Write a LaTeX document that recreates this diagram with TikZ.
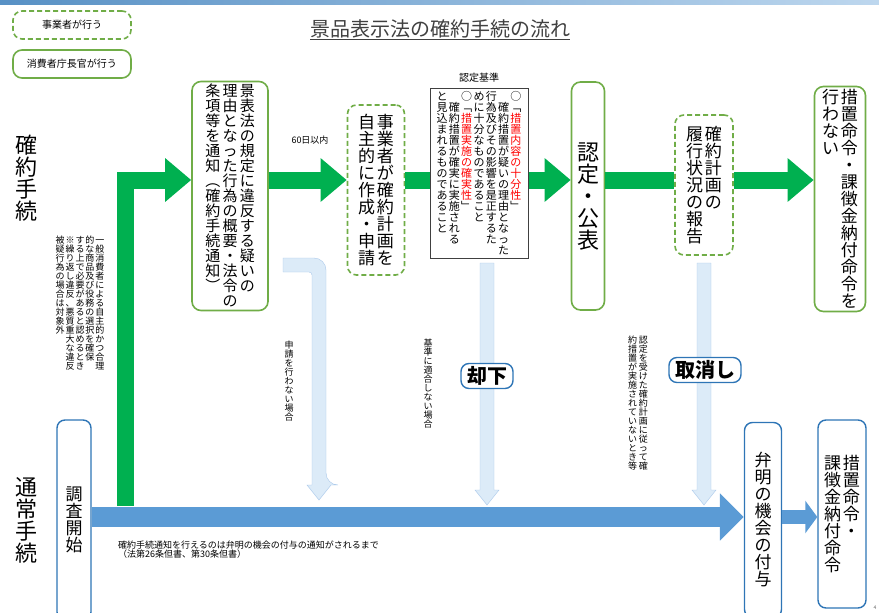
\documentclass[tikz,border=0pt]{standalone}
\usepackage{fontspec}
\setmainfont{Noto Sans CJK JP}
\usetikzlibrary{arrows.meta}
\definecolor{gA}{HTML}{00B050}
\definecolor{gB}{HTML}{70AD47}
\definecolor{bA}{HTML}{5B9BD5}
\definecolor{bB}{HTML}{2E75B6}
\definecolor{lb}{HTML}{DCEBF8}
\definecolor{lbd}{HTML}{A9C8EA}
\ExplSyntaxOn
\bool_new:N \l_vtred_bool
\dim_new:N \l_vtw_dim
\cs_new:Npn \vtcol #1 {\vtop{\offinterlineskip
  \tl_map_inline:nn {#1}{
    \tl_if_eq:nnTF {##1}{\R}{\bool_set_true:N \l_vtred_bool}{
    \tl_if_eq:nnTF {##1}{\K}{\bool_set_false:N \l_vtred_bool}{
      \hbox to \l_vtw_dim{\hss\vrule height .88\l_vtw_dim depth .12\l_vtw_dim width 0pt
        \bool_if:NT \l_vtred_bool {\color{red}}##1\hss}}}}}}
\NewDocumentCommand\vt{O{0.2em}m}{\hbox{\dim_set:Nn \l_vtw_dim{1em}
  \seq_set_split:Nnn \l_tmpa_seq {|} {#2}
  \seq_reverse:N \l_tmpa_seq
  \seq_map_inline:Nn \l_tmpa_seq {\vtcol{##1}\kern#1}\unkern}}
\ExplSyntaxOff
\newcommand\fs[1]{\fontsize{#1}{#1}\selectfont}
\newcommand\vdown[3]{\fill[lb,draw=lbd] (#1-7,#2)--(#1+7,#2)--(#1+7,#3-15)--(#1+12,#3-15)--(#1,#3)--(#1-12,#3-15)--(#1-7,#3-15)--cycle;}
\begin{document}
\begin{tikzpicture}[x=1pt,y=-1pt,
  gbox/.style={draw=gB,line width=1.6pt,rounded corners=9pt,fill=white,inner sep=2pt},
  gdash/.style={gbox,dash pattern=on 5pt off 3pt},
  bbox/.style={draw=bB,line width=1.4pt,rounded corners=8pt,fill=white,inner sep=2pt},
  garr/.style={gA,line width=17pt,-{Triangle[length=26pt,width=42pt]}},
  barr/.style={bA,line width=20pt,-{Triangle[length=24pt,width=46pt]}},
  lab/.style={inner sep=0pt}]
\useasboundingbox (0,0) rectangle (879,613);
\shade[left color=bB!80,right color=bA!40] (0,0) rectangle (879,4);
% legend
\node[gdash,minimum width=118pt,minimum height=28pt,font=\fs{10}] (lg1) at (72,25) {事業者が行う};
\node[gbox,minimum width=118pt,minimum height=28pt,font=\fs{10}] (lg2) at (72,64) {消費者庁長官が行う};
\node[lab,font=\fs{20},text=black!75] (title) at (440,30) {\underline{景品表示法の確約手続の流れ}};
\node[lab,font=\fs{22}] (l1) at (27,178) {\vt{確約手続}};
\node[lab,font=\fs{22}] (l2) at (27,520) {\vt{通常手続}};
% hatched arrows
\fill[lb,draw=lbd] (283,258) [rounded corners=12pt]--(326,258)--(326,485) [sharp corners]--(331,485)--(319,500)--(307,485)--(312,485) [rounded corners=3pt]--(312,272) [sharp corners]--(283,272)--cycle;
\vdown{487}{263}{505}
\vdown{704}{263}{505}
% green L arrow
\coordinate (gl0) at (125,506);
\coordinate (gl1) at (125,180);
% nodes
\node[gbox,minimum width=76pt,minimum height=228pt,font=\fs{15}] (notice) at (230,196) {\vt[0.15em]{景表法の規定に違反する疑いの|理由となった行為の概要・法令の|条項等を通知︵確約手続通知︶}};
\node[gdash,minimum width=57pt,minimum height=170pt,font=\fs{17}] (plan) at (376,190) {\vt[0.1em]{事業者が確約計画を|自主的に作成・申請}};
\node[gbox,minimum width=33pt,minimum height=228pt,font=\fs{22}] (nintei) at (588,196) {\vt{認定・公表}};
\node[gdash,minimum width=58pt,minimum height=140pt,font=\fs{17}] (report) at (704,185) {\vt[0.1em]{確約計画の|履行状況の報告}};
\node[gbox,minimum width=51pt,minimum height=222pt,font=\fs{17}] (nomeas) at (840,199) {\vt[0.1em]{措置命令・課徴金納付命令を|行わない}};
\draw[garr] (gl0) -- (gl1) -- (notice.west |- gl1);
\draw[garr] (notice.east |- gl1) -- (plan.west |- gl1);
\draw[garr] (plan.east |- gl1) -- (nintei.west |- gl1);
\draw[garr,-] (nintei.east |- gl1) -- (report.west |- gl1);
\draw[garr] (report.east |- gl1) -- (nomeas.west |- gl1);
\node[lab,font=\fs{9}] (d60) at (310,140) {60日以内};
\node[draw=black!75,line width=1pt,fill=white,minimum width=98pt,minimum height=170pt,inner sep=0pt,font=\fs{11}] (crit) at (479,173) {\vt[0.12em]{○﹁\R 措置内容の十分性\K ﹂|　確約措置が疑いの理由となった|行為及びその影響を是正するた|めに十分なものであること|○﹁\R 措置実施の確実性\K ﹂|　確約措置が確実に実施される|と見込まれるものであること}};
\node[lab,font=\fs{10}] (critl) at (479,78) {認定基準};
% blue
\node[bbox,minimum width=34pt,minimum height=200pt,font=\fs{17}] (chousa) at (74,520) {\vt{調査開始}};
\node[bbox,minimum width=37pt,minimum height=195pt,font=\fs{17}] (benmei) at (763,520) {\vt{弁明の機会の付与}};
\node[bbox,minimum width=48pt,minimum height=188pt,font=\fs{17}] (order) at (842,514) {\vt[0.1em]{措置命令・|課徴金納付命令}};
\coordinate (bl) at (0,517);
\draw[barr] (chousa.east |- bl) -- (benmei.west |- bl);
\draw[bA,line width=14pt,-{Triangle[length=12pt,width=32pt]}] (benmei.east |- bl) -- (order.west |- bl);
\node[bbox,font=\fs{20},inner xsep=6pt,inner ysep=3pt] (kyakka) at (487,376) {\textbf{却下}};
\node[bbox,font=\fs{20},inner xsep=6pt,inner ysep=3pt] (torikeshi) at (705,370) {\textbf{取消し}};
% small texts
\node[lab,font=\fs{9},anchor=north] (t1) at (80,235) {\vt[0.1em]{一般消費者による自主的かつ合理|的な商品及び役務の選択を確保|する上で必要があると認めるとき|※繰り返し違反、悪質重大な違反|被疑行為の場合は対象外}};
\node[lab,font=\fs{9},anchor=north] (t2) at (289,340) {\vt{申請を行わない場合}};
\node[lab,font=\fs{9},anchor=north] (t3) at (428,338) {\vt{基準に適合しない場合}};
\node[lab,font=\fs{9},anchor=north] (t4) at (638,335) {\vt[0.2em]{認定を受けた確約計画に従って確|約措置が実施されていないとき等}};
\node[lab,font=\fs{9},anchor=north west,align=left] (note) at (118,541) {確約手続通知を行えるのは弁明の機会の付与の通知がされるまで\\（法第26条但書、第30条但書）};
\node[lab,font=\fs{5},text=black!60] (pg) at (875,608) {4};
\end{tikzpicture}
\end{document}
